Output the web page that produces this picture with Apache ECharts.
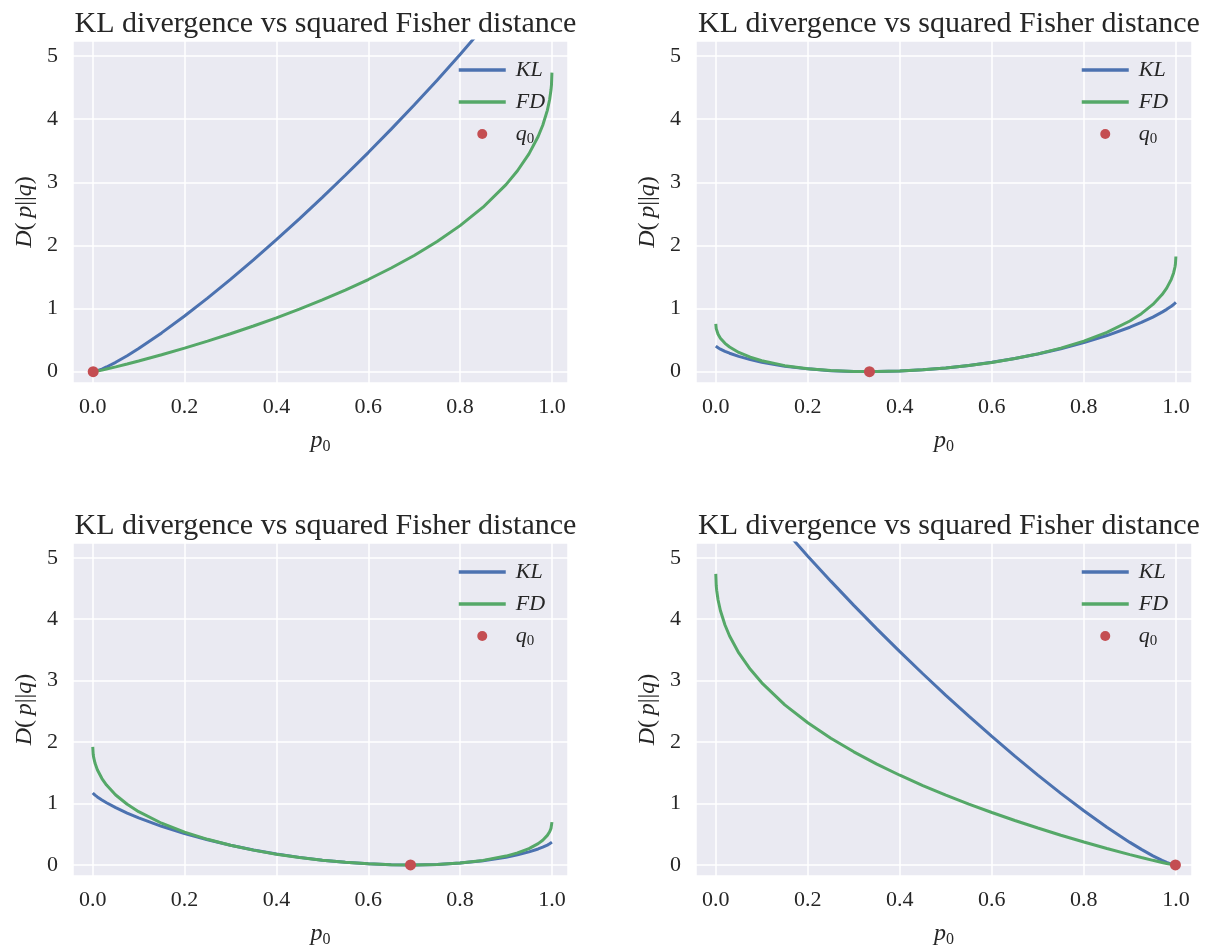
<!DOCTYPE html>
<html><head><meta charset="utf-8">
<script src="https://cdn.jsdelivr.net/npm/echarts@6/dist/echarts.min.js"></script>
<style>html,body{margin:0;padding:0;background:#fff}#c{width:1207px;height:949px}</style>
</head><body><div id="c"></div><script>
// p0 sample positions
const P = [0,0.001,0.002,0.005,0.01,0.02,0.03,0.05,0.075,0.1,0.15,0.2,0.25,0.3,0.35,0.4,0.45,0.5,0.55,0.6,0.65,0.7,0.75,0.8,0.85,0.9,0.925,0.95,0.97,0.98,0.99,0.995,0.998,0.999,1];
// panel 1 (q0 ~ 0)
const KL_A = [0.001,0.000,0.000,0.004,0.014,0.041,0.074,0.148,0.253,0.367,0.614,0.882,1.165,1.462,1.771,2.091,2.421,2.761,3.112,3.472,3.843,4.225,4.619,5.026,5.449,5.892,6.123,6.364,6.566,6.672,6.783,6.842,6.880,6.893,6.908];
const FD_A = [0.002,0.000,0.000,0.003,0.009,0.024,0.041,0.075,0.121,0.168,0.268,0.373,0.484,0.601,0.723,0.853,0.990,1.136,1.292,1.460,1.642,1.841,2.063,2.314,2.606,2.964,3.184,3.451,3.727,3.905,4.141,4.312,4.467,4.545,4.738];
// panel 2 (q0 ~ 1/3)
const KL_B = [0.405,0.398,0.392,0.378,0.356,0.321,0.292,0.242,0.191,0.150,0.087,0.044,0.016,0.003,0.001,0.010,0.029,0.059,0.099,0.148,0.209,0.280,0.363,0.460,0.572,0.704,0.780,0.865,0.943,0.987,1.036,1.064,1.083,1.090,1.099];
const FD_B = [0.758,0.682,0.652,0.593,0.531,0.449,0.390,0.304,0.229,0.173,0.095,0.046,0.017,0.003,0.001,0.010,0.029,0.058,0.097,0.146,0.208,0.282,0.373,0.484,0.622,0.803,0.919,1.065,1.221,1.323,1.463,1.565,1.658,1.706,1.825];
// panel 3 (q0 ~ 0.69)
const KL_C = [1.171,1.163,1.155,1.136,1.107,1.057,1.012,0.933,0.845,0.766,0.629,0.511,0.409,0.320,0.244,0.178,0.123,0.078,0.043,0.018,0.004,0.000,0.009,0.031,0.068,0.126,0.165,0.213,0.260,0.289,0.323,0.344,0.358,0.364,0.371];
const FD_C = [1.922,1.800,1.751,1.655,1.549,1.406,1.300,1.139,0.988,0.867,0.679,0.534,0.417,0.321,0.241,0.175,0.120,0.076,0.042,0.018,0.004,0.000,0.009,0.032,0.074,0.144,0.196,0.266,0.347,0.403,0.481,0.540,0.596,0.625,0.697];
// panel 4 (q0 ~ 1)
const KL_D = [6.908,6.893,6.880,6.842,6.783,6.672,6.566,6.364,6.123,5.892,5.449,5.026,4.619,4.225,3.843,3.472,3.112,2.761,2.421,2.091,1.771,1.462,1.165,0.882,0.614,0.367,0.253,0.148,0.074,0.041,0.014,0.004,0.000,0.000,0.001];
const FD_D = [4.738,4.545,4.467,4.312,4.141,3.905,3.727,3.451,3.184,2.964,2.606,2.314,2.063,1.841,1.642,1.460,1.292,1.136,0.990,0.853,0.723,0.601,0.484,0.373,0.268,0.168,0.121,0.075,0.041,0.024,0.009,0.003,0.000,0.000,0.002];
const Q0 = [0.001,0.334,0.692,0.999];
const TITLE = 'KL divergence vs squared Fisher distance';
const SERIES_NAMES = ['KL','FD','q0'];

const KLS = [KL_A, KL_B, KL_C, KL_D];
const FDS = [FD_A, FD_B, FD_C, FD_D];
const COLORS = {KL:'#4C72B0', FD:'#55A868', q0:'#C44E52'};
const TXT = '#262626';
const FONT = 'Liberation Serif';
const GRIDS = [
  {left:73, top:41, width:495, height:342},
  {left:696, top:41, width:496, height:342},
  {left:73, top:543, width:495, height:341},
  {left:696, top:543, width:496, height:341}
];

const option = {
  animation:false,
  backgroundColor:'#ffffff',
  title:[], grid:[], xAxis:[], yAxis:[], legend:[], series:[]
};
const rich = {
  i:{fontFamily:FONT, fontStyle:'italic', fontSize:24, color:TXT, lineHeight:28},
  n:{fontFamily:FONT, fontSize:24, color:TXT, lineHeight:28},
  s:{fontFamily:FONT, fontSize:16, color:TXT, lineHeight:17, verticalAlign:'bottom'},
  li:{fontFamily:FONT, fontStyle:'italic', fontSize:22, color:TXT, lineHeight:26, padding:[0,0,0,5]},
  ls:{fontFamily:FONT, fontSize:15, color:TXT, lineHeight:17, verticalAlign:'bottom'}
};
GRIDS.forEach((g, k) => {
  option.grid.push({left:g.left, top:g.top, width:g.width, height:g.height, show:true,
    backgroundColor:'#EAEAF2', borderWidth:0, containLabel:false});
  option.title.push({text:TITLE, left:g.left + g.width/2, top:g.top - 37, textAlign:'center',
    textStyle:{fontFamily:FONT, fontSize:30, fontWeight:'normal', color:TXT}});
  option.xAxis.push({type:'value', gridIndex:k, min:-0.043, max:1.035, minInterval:0.2, maxInterval:0.2,
    name:'{i|p}{s|0}', nameLocation:'middle', nameGap:44, nameTextStyle:{rich:rich},
    axisLine:{show:false}, axisTick:{show:false},
    axisLabel:{showMinLabel:false, showMaxLabel:false, margin:13, fontFamily:FONT, fontSize:22, color:TXT,
      formatter:v => v.toFixed(1)},
    splitLine:{show:true, lineStyle:{color:'#ffffff', width:1.5}}});
  option.yAxis.push({type:'value', gridIndex:k, min:-0.18, max:5.24, minInterval:1, maxInterval:1,
    name:'{i|D}{n|(\u2009}{i|p}{n|||}{i|q}{n|)}', nameLocation:'middle', nameGap:34, nameTextStyle:{rich:rich},
    axisLine:{show:false}, axisTick:{show:false},
    axisLabel:{showMinLabel:false, showMaxLabel:false, margin:15, fontFamily:FONT, fontSize:22, color:TXT,
      formatter:v => String(Math.round(v))},
    splitLine:{show:true, lineStyle:{color:'#ffffff', width:1.5}}});
  option.legend.push({orient:'vertical', left:g.left + 379, top:g.top + 13, itemWidth:47, itemHeight:10, itemGap:10,
    selectedMode:false, lineStyle:{width:3.5},
    data:[{name:'KL', itemStyle:{opacity:0}}, {name:'FD', itemStyle:{opacity:0}}, {name:'q0'}],
    formatter:name => name === 'q0' ? '{li|q}{ls|0}' : '{li|' + name + '}',
    textStyle:{fontFamily:FONT, fontSize:22, color:TXT, rich:rich}});
  option.series.push({name:'KL', type:'line', xAxisIndex:k, yAxisIndex:k, symbol:'none', showSymbol:false,
    clip:true, data:P.map((p,i) => [p, KLS[k][i]]), lineStyle:{color:COLORS.KL, width:3}, itemStyle:{color:COLORS.KL}, z:2});
  option.series.push({name:'FD', type:'line', xAxisIndex:k, yAxisIndex:k, symbol:'none', showSymbol:false,
    clip:true, data:P.map((p,i) => [p, FDS[k][i]]), lineStyle:{color:COLORS.FD, width:3}, itemStyle:{color:COLORS.FD}, z:3});
  option.series.push({name:'q0', type:'scatter', xAxisIndex:k, yAxisIndex:k, symbol:'circle', symbolSize:11,
    data:[[Q0[k], 0]], itemStyle:{color:COLORS.q0, opacity:1}, z:4});
});
const chart = echarts.init(document.getElementById('c'), null, {renderer:'canvas'});
chart.setOption(option);
</script></body></html>
